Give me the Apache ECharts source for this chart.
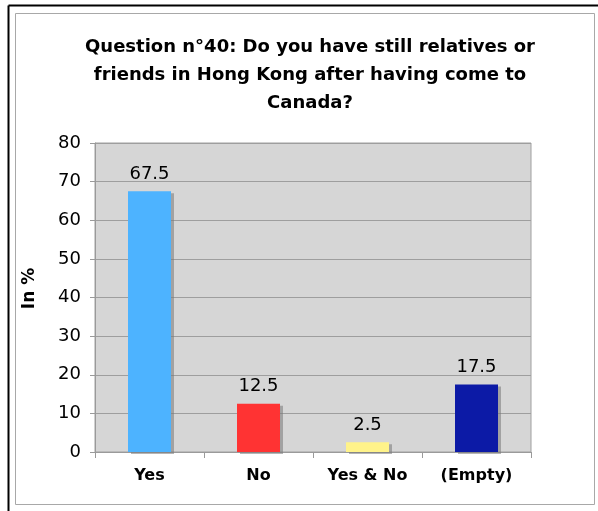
<!DOCTYPE html>
<html>
<head>
<meta charset="utf-8">
<script src="https://cdn.jsdelivr.net/npm/echarts@6/dist/echarts.min.js"></script>
<style>
  html, body { margin: 0; padding: 0; background: #fff; }
  #chart { width: 598px; height: 511px; }
</style>
</head>
<body>
<div id="chart"></div>
<script>
// Answers to question 40, share of respondents in percent
var categories = ['Yes', 'No', 'Yes & No', '(Empty)'];
var percentages = [67.5, 12.5, 2.5, 17.5];
var barColors = ['#4db3ff', '#ff3333', '#fff38a', '#0c1aa6'];
var yTicks = [0, 10, 20, 30, 40, 50, 60, 70, 80];

var FONT = '"DejaVu Sans", Verdana, sans-serif';

var chart = echarts.init(document.getElementById('chart'), null, { renderer: 'canvas' });

chart.setOption({
  animation: false,
  backgroundColor: '#ffffff',
  title: {
    text: 'Question n°40: Do you have still relatives or\nfriends in Hong Kong after having come to\nCanada?',
    left: 305,
    top: 28,
    textAlign: 'center',
    textStyle: {
      fontFamily: FONT,
      fontWeight: 'bold',
      fontSize: 18,
      lineHeight: 28,
      color: '#000'
    }
  },
  graphic: [
    // outer frame (top and left edges)
    { type: 'line', shape: { x1: 8.5, y1: 5.5, x2: 598, y2: 5.5 }, style: { stroke: '#000', lineWidth: 2 } },
    { type: 'line', shape: { x1: 8.5, y1: 5.5, x2: 8.5, y2: 511 }, style: { stroke: '#000', lineWidth: 2 } },
    // inner panel border
    { type: 'rect', shape: { x: 15.5, y: 13.5, width: 579, height: 491 }, style: { fill: 'none', stroke: '#a8a8a8', lineWidth: 1 } }
  ],
  grid: {
    left: 95,
    right: 67,
    top: 143,
    bottom: 59,
    show: true,
    backgroundColor: '#d6d6d6',
    borderColor: '#a0a0a0',
    borderWidth: 1
  },
  xAxis: {
    type: 'category',
    data: categories,
    axisLine: { lineStyle: { color: '#9a9a9a', width: 1 } },
    axisTick: { show: true, length: 6, lineStyle: { color: '#9a9a9a' } },
    axisLabel: {
      fontFamily: FONT,
      fontWeight: 'bold',
      fontSize: 16,
      color: '#000',
      margin: 16
    }
  },
  yAxis: {
    type: 'value',
    min: yTicks[0],
    max: yTicks[yTicks.length - 1],
    interval: 10,
    name: 'In %',
    nameLocation: 'middle',
    nameGap: 57,
    nameRotate: 90,
    nameTextStyle: {
      fontFamily: FONT,
      fontWeight: 'bold',
      fontSize: 17,
      color: '#000',
      padding: [0, 0, 0, 18]
    },
    axisLine: { show: true, lineStyle: { color: '#9a9a9a', width: 1 } },
    axisTick: { show: true, length: 5, lineStyle: { color: '#9a9a9a' } },
    axisLabel: {
      fontFamily: FONT,
      fontSize: 18,
      color: '#000',
      margin: 14
    },
    splitLine: { show: true, lineStyle: { color: '#9e9e9e', width: 1 } }
  },
  series: [{
    type: 'bar',
    barWidth: 43,
    data: percentages.map(function (v, i) {
      return { value: v, itemStyle: { color: barColors[i] } };
    }),
    itemStyle: {
      shadowColor: 'rgba(120,120,120,0.55)',
      shadowOffsetX: 3,
      shadowOffsetY: 2,
      shadowBlur: 0
    },
    label: {
      show: true,
      position: 'top',
      distance: 8,
      fontFamily: FONT,
      fontSize: 18,
      color: '#000',
      formatter: function (p) { return p.value.toFixed(1); }
    }
  }]
});
</script>
</body>
</html>
